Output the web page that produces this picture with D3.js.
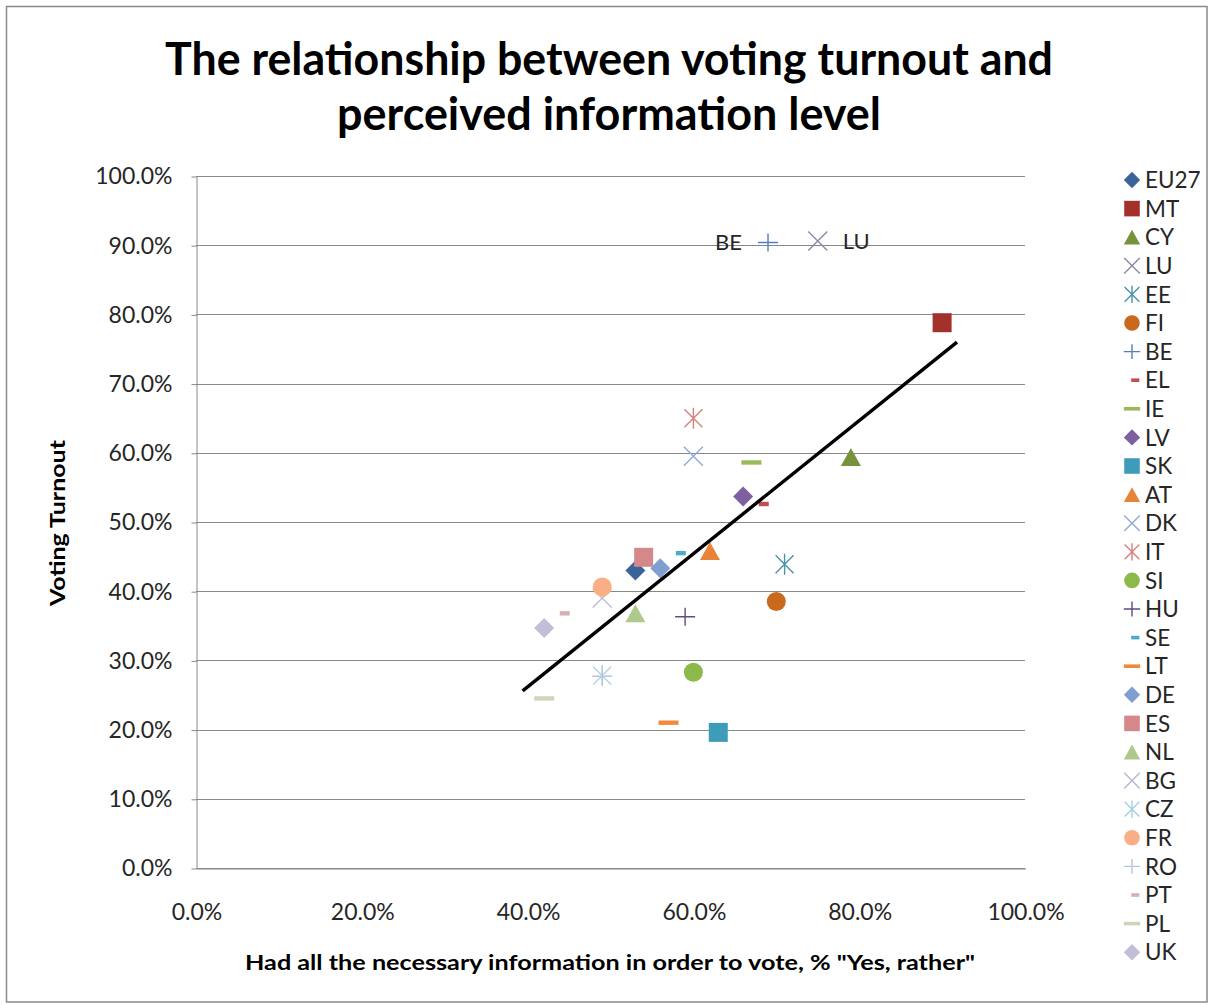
<!DOCTYPE html>
<html><head><meta charset="utf-8">
<script src="https://cdn.jsdelivr.net/npm/d3@7"></script>
<style>
html,body{margin:0;padding:0;background:#fff;}
svg{display:block;}
text{font-family:Lato,"Open Sans",sans-serif;}
</style></head><body>
<svg id="chart" width="1211" height="1005"></svg>
<script>
// ---------------- DATA ----------------
const countries = ["EU27","MT","CY","LU","EE","FI","BE","EL","IE","LV","SK","AT","DK","IT","SI","HU","SE","LT","DE","ES","NL","BG","CZ","FR","RO","PT","PL","UK"];
// Had all the necessary information (% "Yes, rather")
const informed = [53,90,79,75,71,70,69,68,67,66,63,62,60,60,60,59,58,57,56,54,53,49,49,49,49,44,42,42];
// Voting turnout (%)
const turnout  = [43.0,78.8,59.4,90.6,43.9,38.5,90.4,52.6,58.6,53.7,19.6,45.8,59.5,65.0,28.3,36.3,45.5,21.0,43.3,44.9,36.8,39.0,27.8,40.6,27.7,36.8,24.5,34.7];
const xTicks = [0,20,40,60,80,100];
const yTicks = [0,10,20,30,40,50,60,70,80,90,100];
const trendInformed = [39.4, 91.8];
const trendTurnout  = [25.6, 76.0];
const labelledCountries = ["BE","LU"];
const titleLines = ["The relationship between voting turnout and","perceived information level"];
const xTitle = 'Had all the necessary information in order to vote, % "Yes, rather"';
const yTitle = "Voting  Turnout";

// ---------------- STYLES ----------------
const markerCycle = ["diamond","square","triangle","x","star","circle","plus","dash","longdash"];
const seriesColors = ["#3A6499","#A4302C","#76933C","#8B87A5","#4A93A8","#C8691E","#4F81BD","#C0504D","#9BBB59",
  "#7E5FA0","#3E9CBA","#E8833A","#8EAAD8","#D9807E","#8DB84A","#5F4A86","#4BACC6","#F08A3A",
  "#7F9FD3","#D4888A","#AFC98D","#B9B4CF","#A7CFE0","#F9AE86","#B9C6DB","#D6B1B3","#CCD6BC","#C2BDD9"];
const gridColor = "#888888";
const textColor = "#262626";

const svg = d3.select("#chart");
svg.append("rect").attr("x",0).attr("y",0).attr("width",1211).attr("height",1005).attr("fill","#fff");
svg.append("rect").attr("x",6.5).attr("y",6.5).attr("width",1200.5).attr("height",995.5)
  .attr("fill","none").attr("stroke","#8a8a8a").attr("stroke-width",1.5);

const x = d3.scaleLinear().domain([0,100]).range([196,1025]);
const y = d3.scaleLinear().domain([0,100]).range([868,176]);

// gridlines
svg.append("g").selectAll("line").data(yTicks).join("line")
  .attr("x1",x(0)).attr("x2",x(100))
  .attr("y1",d=>Math.round(y(d))+0.5).attr("y2",d=>Math.round(y(d))+0.5)
  .attr("stroke",gridColor).attr("stroke-width",1);

// y axis
const gy = svg.append("g").attr("transform",`translate(${x(0)+0.5},0.5)`)
  .call(d3.axisLeft(y).tickValues(yTicks).tickSize(5).tickSizeOuter(0).tickPadding(19)
    .tickFormat(d=>d.toFixed(1)+"%"));
gy.select(".domain").attr("stroke",gridColor);
gy.selectAll(".tick line").attr("stroke",gridColor);
gy.selectAll(".tick text").attr("font-size",23).attr("fill",textColor).style("font-family","Lato");

// x axis
const gx = svg.append("g").attr("transform",`translate(0.5,${y(0)+0.5})`)
  .call(d3.axisBottom(x).tickValues(xTicks).tickSize(0).tickSizeOuter(0).tickPadding(35)
    .tickFormat(d=>d.toFixed(1)+"%"));
gx.select(".domain").attr("stroke",gridColor);
gx.selectAll(".tick text").attr("font-size",23).attr("fill",textColor).style("font-family","Lato");

// markers
function markerPath(type, s){
  const p = d3.path();
  if(type==="diamond"){ p.moveTo(0,-10*s); p.lineTo(10*s,0); p.lineTo(0,10*s); p.lineTo(-10*s,0); p.closePath(); }
  else if(type==="square"){ p.rect(-9.5*s,-9.5*s,19*s,19*s); }
  else if(type==="triangle"){ p.moveTo(0,-9*s); p.lineTo(10*s,9*s); p.lineTo(-10*s,9*s); p.closePath(); }
  else if(type==="circle"){ p.arc(0,0,9.5*s,0,2*Math.PI); }
  else if(type==="x"){ p.moveTo(-9.5*s,-9.5*s); p.lineTo(9.5*s,9.5*s); p.moveTo(-9.5*s,9.5*s); p.lineTo(9.5*s,-9.5*s); }
  else if(type==="star"){ p.moveTo(-9*s,-9*s); p.lineTo(9*s,9*s); p.moveTo(-9*s,9*s); p.lineTo(9*s,-9*s); p.moveTo(0,-10.5*s); p.lineTo(0,10.5*s); }
  else if(type==="plus"){ p.moveTo(-10*s,0); p.lineTo(10*s,0); p.moveTo(0,-9*s); p.lineTo(0,9*s); }
  else if(type==="dash"){ p.rect(-1*s,-2.2*s,10*s,4.4*s); }
  else if(type==="longdash"){ p.rect(-10*s,-2.2*s,20*s,4.4*s); }
  return p.toString();
}
const stroked = t => t==="x"||t==="star"||t==="plus";
function drawMarker(sel, i, s){
  const t = markerCycle[i % markerCycle.length];
  sel.append("path").attr("d",markerPath(t,s))
    .attr("fill",stroked(t)?"none":seriesColors[i])
    .attr("stroke",stroked(t)?seriesColors[i]:"none")
    .attr("stroke-width",stroked(t)?1.4:0);
}

const gm = svg.append("g");
countries.forEach((c,i)=>{
  const g = gm.append("g").attr("transform",`translate(${x(informed[i])},${y(turnout[i])})`);
  drawMarker(g,i,1);
});

// trendline
svg.append("path")
  .datum(trendInformed.map((v,i)=>[v,trendTurnout[i]]))
  .attr("d",d3.line().x(d=>x(d[0])).y(d=>y(d[1])))
  .attr("stroke","#000").attr("stroke-width",3.4).attr("fill","none");

// data labels
labelledCountries.forEach(c=>{
  const i = countries.indexOf(c);
  const left = c==="BE";
  svg.append("text")
    .attr("x",x(informed[i])+(left?-26:25))
    .attr("y",y(turnout[i]))
    .attr("dy","0.35em")
    .attr("text-anchor",left?"end":"start")
    .attr("font-size",22).attr("fill",textColor)
    .text(c);
});

// legend
const lg = svg.append("g");
countries.forEach((c,i)=>{
  const cy = 180 + i*28.6;
  const g = lg.append("g").attr("transform",`translate(1132,${cy})`);
  drawMarker(g,i,0.82);
  const tx = lg.append("text").attr("x",1145).attr("y",cy).attr("dy","0.36em")
    .attr("font-size",22.5).attr("fill",textColor).text(c);
  const w = tx.node().getComputedTextLength();
  if(1145 + w > 1204) tx.attr("x",1204 - w);
});

// titles
svg.append("text").attr("x",609).attr("y",75).attr("text-anchor","middle")
  .attr("font-size",46).attr("font-weight","bold").attr("fill","#000")
  .attr("textLength",888).attr("lengthAdjust","spacingAndGlyphs").text(titleLines[0]);
svg.append("text").attr("x",609).attr("y",130).attr("text-anchor","middle")
  .attr("font-size",46).attr("font-weight","bold").attr("fill","#000")
  .attr("textLength",544).attr("lengthAdjust","spacingAndGlyphs").text(titleLines[1]);

svg.append("text").attr("x",610).attr("y",970).attr("text-anchor","middle")
  .attr("font-size",21).attr("font-weight","bold").attr("fill","#000")
  .attr("textLength",730).attr("lengthAdjust","spacingAndGlyphs").text(xTitle);

svg.append("text").attr("transform","translate(65,523) rotate(-90)").attr("text-anchor","middle")
  .attr("font-size",21).attr("font-weight","bold").attr("fill","#000")
  .attr("textLength",166).attr("lengthAdjust","spacingAndGlyphs").text(yTitle);
</script>
</body></html>
